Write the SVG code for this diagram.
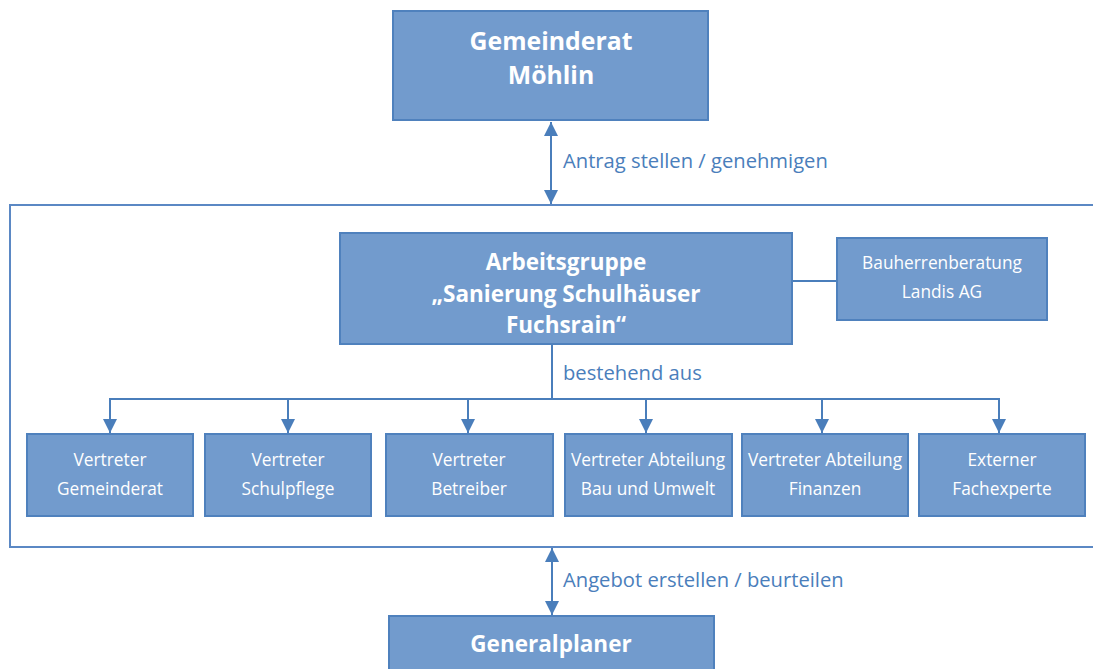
<svg xmlns="http://www.w3.org/2000/svg" width="1093" height="669" viewBox="0 0 1093 669">
<style>
.box{fill:#729BCD;stroke:#4F81BD;stroke-width:2}
.big{font-family:"Open Sans","Noto Sans",sans-serif;font-weight:bold;font-size:22.5px;fill:#fff;text-anchor:middle}
.top{font-size:24.8px}
.sm{font-family:"Open Sans","Noto Sans",sans-serif;font-size:17.3px;fill:#fff;text-anchor:middle}
.lbl{font-family:"Open Sans","Noto Sans",sans-serif;font-size:20.2px;fill:#4A7EBB}
.ln{stroke:#4A7EBB;stroke-width:2;fill:none}
</style>
<defs>
<marker id="ah2" viewBox="0 0 10 10" refX="10" refY="5" markerWidth="7" markerHeight="7" orient="auto-start-reverse">
<path d="M0,0 L10,5 L0,10 z" fill="#4A7EBB"/>
</marker>
</defs>
<rect x="10" y="205" width="1090" height="342" fill="#fff" stroke="#5B88C4" stroke-width="2"/>
<g id="connectors">
<line class="ln" x1="551" y1="122" x2="551" y2="204" marker-start="url(#ah2)" marker-end="url(#ah2)"/>
<line class="ln" x1="552" y1="548" x2="552" y2="615" marker-start="url(#ah2)" marker-end="url(#ah2)"/>
<line class="ln" x1="792" y1="281" x2="837" y2="281"/>
<line class="ln" x1="552" y1="344" x2="552" y2="399"/>
<line class="ln" x1="110" y1="399" x2="999" y2="399"/>
<line class="ln" x1="110" y1="398" x2="110" y2="433" marker-end="url(#ah2)"/>
<line class="ln" x1="288" y1="398" x2="288" y2="433" marker-end="url(#ah2)"/>
<line class="ln" x1="468" y1="398" x2="468" y2="433" marker-end="url(#ah2)"/>
<line class="ln" x1="646" y1="398" x2="646" y2="433" marker-end="url(#ah2)"/>
<line class="ln" x1="822" y1="398" x2="822" y2="433" marker-end="url(#ah2)"/>
<line class="ln" x1="999" y1="398" x2="999" y2="433" marker-end="url(#ah2)"/>
<text class="lbl" x="563" y="168">Antrag stellen / genehmigen</text>
<text class="lbl" x="563" y="380">bestehend aus</text>
<text class="lbl" x="563" y="587">Angebot erstellen / beurteilen</text>
</g>
<g id="gemeinderat">
<rect class="box" x="393" y="11" width="315" height="109"/>
<text class="big top" x="551" y="50">Gemeinderat</text>
<text class="big top" x="551" y="84">Möhlin</text>
</g>
<g id="arbeitsgruppe">
<rect class="box" x="340" y="233" width="452" height="111"/>
<text class="big" x="566" y="270">Arbeitsgruppe</text>
<text class="big" x="566" y="302">„Sanierung Schulhäuser</text>
<text class="big" x="566" y="333">Fuchsrain“</text>
</g>
<g id="bauherrenberatung">
<rect class="box" x="837" y="238" width="210" height="82"/>
<text class="sm" x="942" y="269">Bauherrenberatung</text>
<text class="sm" x="942" y="298">Landis AG</text>
</g>
<g id="v1">
<rect class="box" x="27" y="434" width="166" height="82"/>
<text class="sm" x="110" y="466">Vertreter</text>
<text class="sm" x="110" y="495">Gemeinderat</text>
</g>
<g id="v2">
<rect class="box" x="205" y="434" width="166" height="82"/>
<text class="sm" x="288" y="466">Vertreter</text>
<text class="sm" x="288" y="495">Schulpflege</text>
</g>
<g id="v3">
<rect class="box" x="386" y="434" width="167" height="82"/>
<text class="sm" x="469" y="466">Vertreter</text>
<text class="sm" x="469" y="495">Betreiber</text>
</g>
<g id="v4">
<rect class="box" x="565" y="434" width="167" height="82"/>
<text class="sm" x="648" y="466">Vertreter Abteilung</text>
<text class="sm" x="648" y="495">Bau und Umwelt</text>
</g>
<g id="v5">
<rect class="box" x="742" y="434" width="166" height="82"/>
<text class="sm" x="825" y="466">Vertreter Abteilung</text>
<text class="sm" x="825" y="495">Finanzen</text>
</g>
<g id="v6">
<rect class="box" x="919" y="434" width="166" height="82"/>
<text class="sm" x="1002" y="466">Externer</text>
<text class="sm" x="1002" y="495">Fachexperte</text>
</g>
<g id="generalplaner">
<rect class="box" x="389" y="616" width="325" height="70"/>
<text class="big" x="551" y="652">Generalplaner</text>
</g>
</svg>
